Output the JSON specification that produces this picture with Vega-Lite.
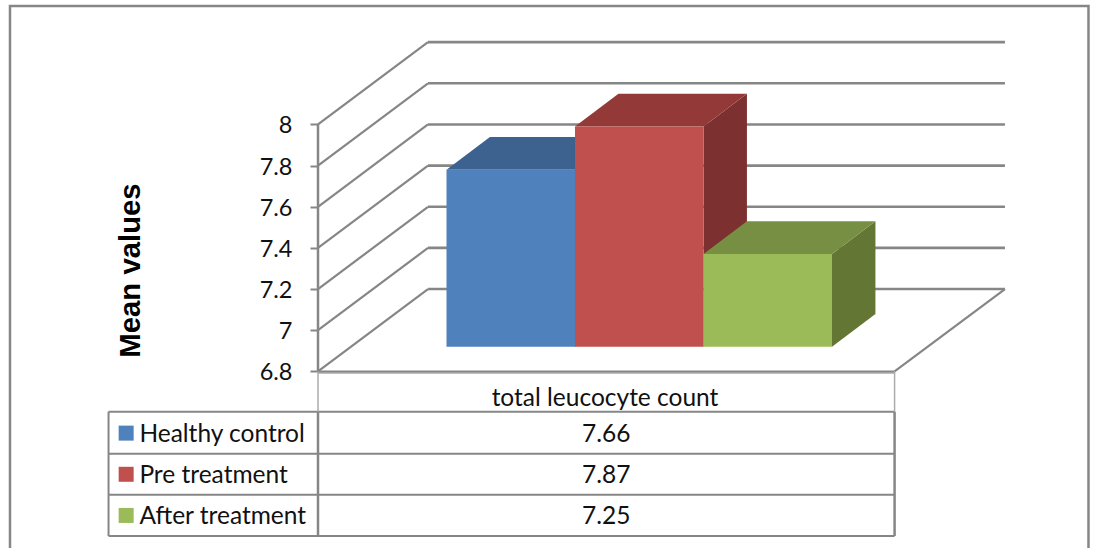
{
"$schema":"https://vega.github.io/schema/vega-lite/v6.json",
"width":1095,"height":548,"padding":0,"autosize":{"type":"none"},
"background":"white",
"config":{"view":{"stroke":null},"text":{"font":"Lato","fontSize":24.5,"color":"#111111","dy":1.5}},
"datasets":{
"readings":[{"series":"Healthy control","value":7.66},{"series":"Pre treatment","value":7.87},{"series":"After treatment","value":7.25}],
"ticks":[{"tick":6.8},{"tick":7},{"tick":7.2},{"tick":7.4},{"tick":7.6},{"tick":7.8},{"tick":8}],
"category":[{"label":"total leucocyte count"}]
},
"encoding":{
"x":{"field":"x0","type":"quantitative","scale":{"domain":[-3.4747,5.0467],"nice":false,"zero":false},"axis":null,"stack":null},
"y":{"field":"y0","type":"quantitative","stack":null,"scale":{"domain":[5.9418,8.6047],"nice":false,"zero":false},
"axis":{"values":[6.8,7,7.2,7.4,7.6,7.8,8],"format":"~g","offset":-318,"domain":false,"grid":false,"ticks":true,"tickColor":"#868686","tickWidth":2,"tickSize":8,"labelPadding":18,"labelOffset":1.5,"labelFont":"Lato","labelFontSize":23.5,"labelColor":"#111111","labelOverlap":false,"title":"Mean values","titleFont":"Liberation Sans","titleFontWeight":"bold","titleFontSize":29.3,"titleColor":"#000000","titleAngle":-90,"titleX":-188,"titleY":270,"titleAlign":"center","titleBaseline":"middle"}}
},
"layer":[
{"data":{"name":"category"},"transform":[{"calculate":"-3.397","as":"x0"},{"calculate":"4.996","as":"x1"},{"calculate":"8.5755","as":"y0"},{"calculate":"5.85","as":"y1"}],
"mark":{"type":"rect","fill":"transparent","stroke":"#868686","strokeWidth":2.5,"clip":false},"encoding":{"x2":{"field":"x1"},"y2":{"field":"y1"}}},
{"data":{"name":"ticks"},"transform":[{"calculate":"-1","as":"x0"},{"calculate":"-0.144","as":"x1"},{"calculate":"datum.tick","as":"y0"},{"calculate":"datum.tick+0.4","as":"y1"}],
"mark":{"type":"rule","color":"#868686","strokeWidth":2.2},"encoding":{"x2":{"field":"x1"},"y2":{"field":"y1"}}},
{"data":{"name":"ticks"},"transform":[{"calculate":"-0.144","as":"x0"},{"calculate":"4.346","as":"x1"},{"calculate":"datum.tick+0.4","as":"y0"}],
"mark":{"type":"rule","color":"#868686","strokeWidth":2.6},"encoding":{"x2":{"field":"x1"}}},
{"data":{"name":"ticks"},"transform":[{"filter":"datum.tick==6.8"},{"calculate":"3.487","as":"x0"},{"calculate":"4.346","as":"x1"},{"calculate":"datum.tick","as":"y0"},{"calculate":"datum.tick+0.4","as":"y1"}],
"mark":{"type":"rule","color":"#868686","strokeWidth":2.2},"encoding":{"x2":{"field":"x1"},"y2":{"field":"y1"}}},
{"data":{"name":"ticks"},"transform":[{"filter":"datum.tick==6.8"},{"calculate":"-1","as":"x0"},{"calculate":"3.487","as":"x1"},{"calculate":"datum.tick-0.008","as":"y0"}],
"mark":{"type":"rule","color":"#BFBFBF","strokeWidth":2},"encoding":{"x2":{"field":"x1"}}},
{"data":{"name":"ticks"},"transform":[{"filter":"datum.tick==6.8"},{"calculate":"-1","as":"x0"},{"calculate":"3.487","as":"x1"},{"calculate":"datum.tick","as":"y0"}],
"mark":{"type":"rule","color":"#868686","strokeWidth":2},"encoding":{"x2":{"field":"x1"}}},
{"data":{"name":"ticks"},"transform":[{"filter":"datum.tick==6.8"},{"calculate":"-1","as":"x0"},{"calculate":"datum.tick","as":"y0"},{"calculate":"8","as":"y1"}],
"mark":{"type":"rule","color":"#868686","strokeWidth":2.5},"encoding":{"y2":{"field":"y1"}}},
{"data":{"name":"readings"},"transform":[{"window":[{"op":"row_number","as":"n"}]},{"calculate":"[0,1]","as":"k"},{"flatten":["k"]},{"calculate":"datum.n+datum.k*0.338","as":"x0"},{"calculate":"datum.value+0.12+datum.k*0.159","as":"y0"},{"calculate":"6.92+datum.k*0.159","as":"y1"},{"calculate":"datum.series+' side'","as":"face"}],
"mark":{"type":"area","orient":"vertical","interpolate":"linear"},
"encoding":{"y2":{"field":"y1"},"color":{"field":"face","type":"nominal","legend":null,"scale":{"domain":["Healthy control","Pre treatment","After treatment","Healthy control top","Pre treatment top","After treatment top","Healthy control side","Pre treatment side","After treatment side"],"range":["#4F81BD","#C0504D","#9BBB59","#3D6290","#933A38","#778F42","#2F4D71","#7C3130","#647634"]}}}},
{"data":{"name":"readings"},"transform":[{"window":[{"op":"row_number","as":"n"}]},{"calculate":"[0,1]","as":"k"},{"flatten":["k"]},{"calculate":"datum.n-1+datum.k*0.338","as":"x0"},{"calculate":"datum.n+datum.k*0.338","as":"x1"},{"calculate":"datum.value+0.12+datum.k*0.159","as":"y0"},{"calculate":"datum.series+' top'","as":"face"}],
"mark":{"type":"area","orient":"horizontal","interpolate":"linear"},
"encoding":{"x2":{"field":"x1"},"color":{"field":"face","type":"nominal","legend":null,"scale":{"domain":["Healthy control","Pre treatment","After treatment","Healthy control top","Pre treatment top","After treatment top","Healthy control side","Pre treatment side","After treatment side"],"range":["#4F81BD","#C0504D","#9BBB59","#3D6290","#933A38","#778F42","#2F4D71","#7C3130","#647634"]}}}},
{"data":{"name":"readings"},"transform":[{"window":[{"op":"row_number","as":"n"}]},{"calculate":"datum.n-1","as":"x0"},{"calculate":"datum.n","as":"x1"},{"calculate":"datum.value+0.12","as":"y0"},{"calculate":"6.92","as":"y1"},{"calculate":"datum.series","as":"face"}],
"mark":{"type":"rect"},
"encoding":{"x2":{"field":"x1"},"y2":{"field":"y1"},"color":{"field":"face","type":"nominal","legend":null,"scale":{"domain":["Healthy control","Pre treatment","After treatment","Healthy control top","Pre treatment top","After treatment top","Healthy control side","Pre treatment side","After treatment side"],"range":["#4F81BD","#C0504D","#9BBB59","#3D6290","#933A38","#778F42","#2F4D71","#7C3130","#647634"]}}}},
{"data":{"name":"readings"},"transform":[{"window":[{"op":"row_number","as":"n"}]},{"calculate":"-2.63","as":"x0"},{"calculate":"3.487","as":"x1"},{"calculate":"6.6-0.2*datum.n","as":"y0"}],
"mark":{"type":"rule","color":"#868686","strokeWidth":2},"encoding":{"x2":{"field":"x1"}}},
{"data":{"name":"category"},"transform":[{"calculate":"-2.63","as":"x0"},{"calculate":"3.487","as":"x1"},{"calculate":"6.604","as":"y0"}],
"mark":{"type":"rule","color":"#868686","strokeWidth":2},"encoding":{"x2":{"field":"x1"}}},
{"data":{"name":"category"},"transform":[{"calculate":"-2.63","as":"x0"},{"calculate":"6.604","as":"y0"},{"calculate":"6.0","as":"y1"}],
"mark":{"type":"rule","color":"#868686","strokeWidth":2},"encoding":{"y2":{"field":"y1"}}},
{"data":{"name":"category"},"transform":[{"calculate":"-1","as":"x0"},{"calculate":"6.604","as":"y0"},{"calculate":"6.0","as":"y1"}],
"mark":{"type":"rule","color":"#868686","strokeWidth":2.5},"encoding":{"y2":{"field":"y1"}}},
{"data":{"name":"category"},"transform":[{"calculate":"3.487","as":"x0"},{"calculate":"6.604","as":"y0"},{"calculate":"6.0","as":"y1"}],
"mark":{"type":"rule","color":"#868686","strokeWidth":2.5},"encoding":{"y2":{"field":"y1"}}},
{"data":{"name":"category"},"transform":[{"calculate":"-1","as":"x0"},{"calculate":"6.8","as":"y0"},{"calculate":"6.604","as":"y1"}],
"mark":{"type":"rule","color":"#ABABAB","strokeWidth":1.5},"encoding":{"y2":{"field":"y1"}}},
{"data":{"name":"category"},"transform":[{"calculate":"3.487","as":"x0"},{"calculate":"6.8","as":"y0"},{"calculate":"6.604","as":"y1"}],
"mark":{"type":"rule","color":"#ABABAB","strokeWidth":1.5},"encoding":{"y2":{"field":"y1"}}},
{"data":{"name":"readings"},"transform":[{"window":[{"op":"row_number","as":"n"}]},{"calculate":"-2.493","as":"x0"},{"calculate":"6.7-0.2*datum.n","as":"y0"},{"calculate":"datum.series","as":"face"}],
"mark":{"type":"point","shape":"square","filled":true,"size":225,"opacity":1},
"encoding":{"color":{"field":"face","type":"nominal","legend":null,"scale":{"domain":["Healthy control","Pre treatment","After treatment","Healthy control top","Pre treatment top","After treatment top","Healthy control side","Pre treatment side","After treatment side"],"range":["#4F81BD","#C0504D","#9BBB59","#3D6290","#933A38","#778F42","#2F4D71","#7C3130","#647634"]}}}},
{"data":{"name":"readings"},"transform":[{"window":[{"op":"row_number","as":"n"}]},{"calculate":"-2.39","as":"x0"},{"calculate":"6.7-0.2*datum.n","as":"y0"}],
"mark":{"type":"text","align":"left","baseline":"middle"},"encoding":{"text":{"field":"series","type":"nominal"}}},
{"data":{"name":"readings"},"transform":[{"window":[{"op":"row_number","as":"n"}]},{"calculate":"1.2435","as":"x0"},{"calculate":"6.7-0.2*datum.n","as":"y0"}],
"mark":{"type":"text","align":"center","baseline":"middle"},"encoding":{"text":{"field":"value","type":"quantitative","format":".2f"}}},
{"data":{"name":"category"},"transform":[{"calculate":"1.2335","as":"x0"},{"calculate":"6.675","as":"y0"}],
"mark":{"type":"text","align":"center","baseline":"middle"},"encoding":{"text":{"field":"label","type":"nominal"}}}
]
}
